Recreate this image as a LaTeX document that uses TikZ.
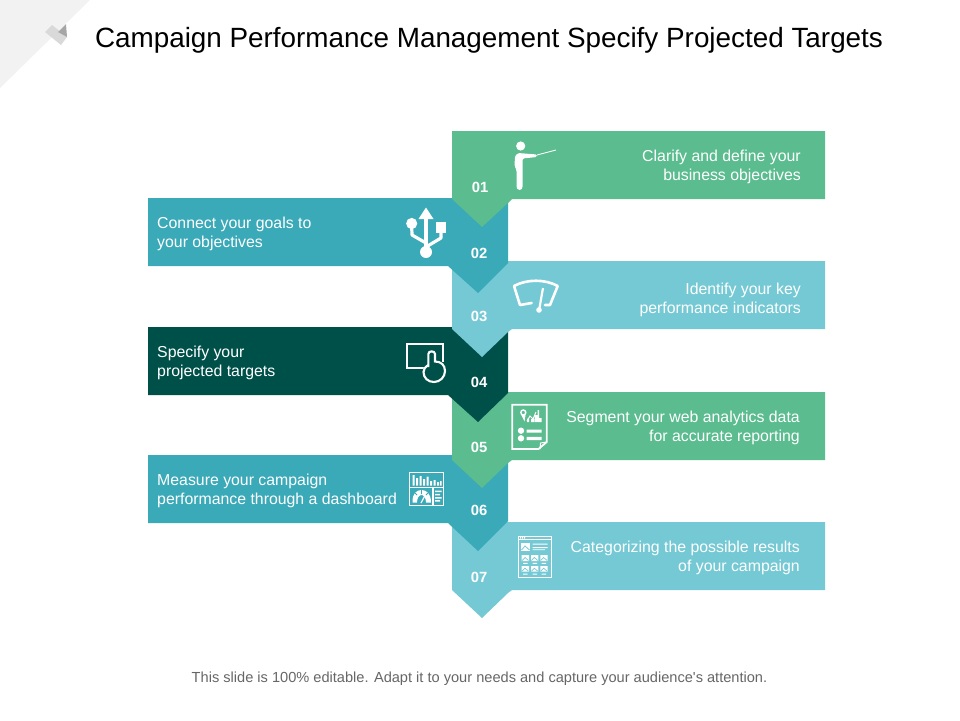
\documentclass[tikz,border=0pt]{standalone}
\usepackage{fontspec}
\setmainfont{Liberation Sans}
\definecolor{panelgreen}{HTML}{5ABC8F}
\definecolor{panelteal}{HTML}{3AA9B8}
\definecolor{panellight}{HTML}{74C9D4}
\definecolor{paneldark}{HTML}{00504A}
\tikzset{
  titletext/.style={font=\fontsize{27.85}{32}\selectfont, text=black, inner sep=0pt},
  boxtext/.style={font=\fontsize{15.85}{19}\selectfont, text=white, inner sep=0pt},
  numtext/.style={font=\fontsize{14.8}{17}\selectfont\bfseries, text=white, inner sep=0pt},
  foottext/.style={font=\fontsize{14.6}{17}\selectfont, text=black!60, inner sep=0pt},
  icon/.style={draw=white, line width=1.8pt, fill=none},
}
\begin{document}
\begin{tikzpicture}[x=1pt, y=-1pt]
\useasboundingbox (0,0) rectangle (960,720);
\fill[black!5] (0,0) -- (90,0) -- (0,88) -- cycle;
\fill[black!15] (45,32) -- (52,25) -- (67,37) -- (61,45) -- cycle;
\fill[black!35] (58,32) -- (66,24) -- (67,37) -- cycle;
\node[titletext] (title) at (489,40) {Campaign Performance Management Specify Projected Targets};
% panels, last one first
\fill[panellight] (452,522) -- (825,522) -- (825,590) -- (512,590) -- (508,593) -- (482,618) -- (452,590) -- cycle;
\fill[panelteal] (148,455) -- (508,455) -- (508,521) -- (478,551) -- (448,523) -- (148,523) -- cycle;
\fill[panelgreen] (452,392) -- (825,392) -- (825,460) -- (512,460) -- (508,463) -- (482,488) -- (452,460) -- cycle;
\fill[paneldark] (148,327) -- (508,327) -- (508,393) -- (478,422) -- (448,395) -- (148,395) -- cycle;
\fill[panellight] (452,261) -- (825,261) -- (825,329) -- (512,329) -- (508,332) -- (482,357) -- (452,329) -- cycle;
\fill[panelteal] (148,198) -- (508,198) -- (508,263) -- (478,293) -- (448,266) -- (148,266) -- cycle;
\fill[panelgreen] (452,131) -- (825,131) -- (825,199) -- (512,199) -- (508,203) -- (482,227) -- (452,199) -- cycle;
% numbers
\node[numtext] (n1) at (480,187) {01};
\node[numtext] (n2) at (479,253) {02};
\node[numtext] (n3) at (479,316) {03};
\node[numtext] (n4) at (479,382) {04};
\node[numtext] (n5) at (479,447) {05};
\node[numtext] (n6) at (479,510) {06};
\node[numtext] (n7) at (479,577) {07};
% texts
\node[boxtext, anchor=east, align=right] (t1) at (801,167) {Clarify and define your\\business objectives};
\node[boxtext, anchor=west, align=left] (t2) at (157,234) {Connect your goals to\\your objectives};
\node[boxtext, anchor=east, align=right] (t3) at (801,300) {Identify your key\\performance indicators};
\node[boxtext, anchor=west, align=left] (t4) at (157,362.5) {Specify your\\projected targets};
\node[boxtext, anchor=east, align=right] (t5) at (800,427.5) {Segment your web analytics data\\for accurate reporting};
\node[boxtext, anchor=west, align=left] (t6) at (157,491) {Measure your campaign\\performance through a dashboard};
\node[boxtext, anchor=east, align=right] (t7) at (800,557.5) {Categorizing the possible results\\of your campaign};
\node[foottext] (foot) at (479.5,679) {This slide is 100\% editable. Adapt it to your needs and capture your audience\textquotesingle s attention.};
% person with pointer
\fill[white] (520.7,146) circle (4.6);
\fill[white, rounded corners=1.5pt] (515,156) -- (518,153) -- (537,154.5) -- (537,157) -- (522.5,158.5) -- (522.5,188) -- (521,190) -- (518,190) -- (516.5,188) -- (516.5,170) -- (514.5,166) -- cycle;
\draw[white, line width=0.9pt] (537,155) -- (556,150);
% usb
\draw[white, line width=3.2pt] (426,216) -- (426,250);
\fill[white] (426,207.5) -- (433.5,219) -- (418.5,219) -- cycle;
\fill[white] (426,252) circle (6);
\fill[white] (411.7,223.5) circle (5.6);
\draw[white, line width=3.2pt, line join=round] (411.7,226) -- (412,235) -- (426,243);
\fill[white] (436,222) rectangle (446,232.5);
\draw[white, line width=3.2pt, line join=round] (441,232) -- (441,238) -- (426,247);
% wiper
\draw[icon, line width=2.6pt, line join=round, line cap=round] (531.7,303) -- (520,305) -- (514,286) .. controls (527,279) and (545,279) .. (557.7,286) -- (550,305) -- (545,305);
\draw[white, line width=2.2pt] (543,288) -- (539.3,309);
\fill[white] (539,310) circle (2.8);
% touch screen
\draw[icon] (433,368.3) -- (407.3,368.3) -- (407.3,344) -- (443.3,344) -- (443.3,362);
\fill[paneldark] (434,371.5) circle (11);
\draw[icon, line width=2.1pt] (428.3,367) -- (428.3,354) .. controls (428.3,350.5) and (435,350.5) .. (435,354) -- (435,361.5) .. controls (441,361.5) and (445,365) .. (445,371) .. controls (445,377) and (440,382) .. (434,382) .. controls (428,382) and (423.5,378) .. (423.5,372) .. controls (423.5,369.5) and (425,367) .. (428.3,365);
% report
\draw[icon] (538.5,449) -- (512.3,449) -- (512.3,404.7) -- (546.7,404.7) -- (546.7,442) -- cycle;
\draw[white, line width=1pt] (540,449) -- (540.5,443) -- (546.7,442);
\draw[white, line width=1.4pt] (523.3,412.5) circle (2.5);
\fill[white] (521,414.5) -- (525.6,414.5) -- (524.5,421.5) -- cycle;
\draw[white, line width=1pt] (527,421) -- (530,416) -- (533,419) -- (536,412);
\fill[white] (527,418.5) rectangle (529,422) (531,419) rectangle (534,422) (534.5,415) rectangle (537.5,422) (537.5,410) rectangle (539,422) (539,418) rectangle (541.7,422);
\fill[white] (521,430.7) circle (3.2) (521,438.3) circle (3.2);
\fill[white] (526.7,429.5) rectangle (541.7,432.7) (526.7,436.8) rectangle (541.7,440.2);
% dashboard
\draw[icon, line width=1.2pt] (409.3,472.7) rectangle (443.3,505.7);
\draw[white, line width=1.2pt] (409.3,487.7) -- (443.3,487.7) (433,487.7) -- (433,505.7);
\fill[white] (412.5,475) rectangle (414.5,485.5) (416,478) rectangle (418,485.5) (419.5,476) rectangle (421.5,485.5) (423,479) rectangle (425,485.5) (426.5,476.5) rectangle (428.5,485.5) (430,481) rectangle (432,485.5) (433.5,480) rectangle (435.5,485.5) (437,482) rectangle (439,485.5) (440,481) rectangle (441.5,485.5);
\fill[white] (412.5,502.5) .. controls (412,493) and (417,490) .. (421.5,490) .. controls (426,490) and (431,493) .. (431,502.5) -- (426,502.5) .. controls (426,498) and (424,495) .. (421.5,495) .. controls (419,495) and (417,498) .. (417,502.5) -- cycle;
\draw[panelteal, line width=0.9pt] (417,495) -- (414,492) (421.5,494) -- (421.5,489) (426,495) -- (429,492);
\draw[white, line width=1.2pt] (421,503) -- (425,495.5);
\fill[white] (435,490.5) rectangle (441.5,492) (435,493.8) rectangle (440,495.3) (435,497) rectangle (441.5,498.5) (435,500.2) rectangle (440,501.7);
% wireframe grid
\draw[icon, line width=1pt] (518.3,536.3) rectangle (551.7,577.7);
\draw[white, line width=0.7pt] (518.3,539.6) -- (551.7,539.6);
\fill[white] (520,537) rectangle (521,538.5) (522,537) rectangle (523,538.5) (524,537) rectangle (525,538.5);
\fill[white] (521,543.3) rectangle (530,550.7);
\draw[panellight, line width=0.8pt] (521.5,550) -- (525,546) -- (529.5,550);
\fill[white] (532.5,543.5) rectangle (547.7,544.7) (532.5,547) rectangle (547.7,548) (532.5,549.3) rectangle (545,550.2);
\fill[white] (521.7,555) rectangle (529,561) (531,555) rectangle (538.3,561) (540.3,555) rectangle (547.7,561);
\draw[panellight, line width=0.7pt] (522,560.5) -- (525,557.5) -- (528.5,560.5) (531.3,560.5) -- (534.3,557.5) -- (537.8,560.5) (540.6,560.5) -- (543.6,557.5) -- (547.2,560.5);
\fill[white] (523,562.8) rectangle (527.5,563.8) (532.5,562.8) rectangle (537,563.8) (541.5,562.8) rectangle (546,563.8);
\fill[white] (521.7,566) rectangle (529,571.7) (531,566) rectangle (538.3,571.7) (540.3,566) rectangle (547.7,571.7);
\draw[panellight, line width=0.7pt] (522,571.2) -- (525,568.2) -- (528.5,571.2) (531.3,571.2) -- (534.3,568.2) -- (537.8,571.2) (540.6,571.2) -- (543.6,568.2) -- (547.2,571.2);
\fill[white] (523,573.5) rectangle (527.5,574.5) (532.5,573.5) rectangle (537,574.5) (541.5,573.5) rectangle (546,574.5);
\end{tikzpicture}
\end{document}
